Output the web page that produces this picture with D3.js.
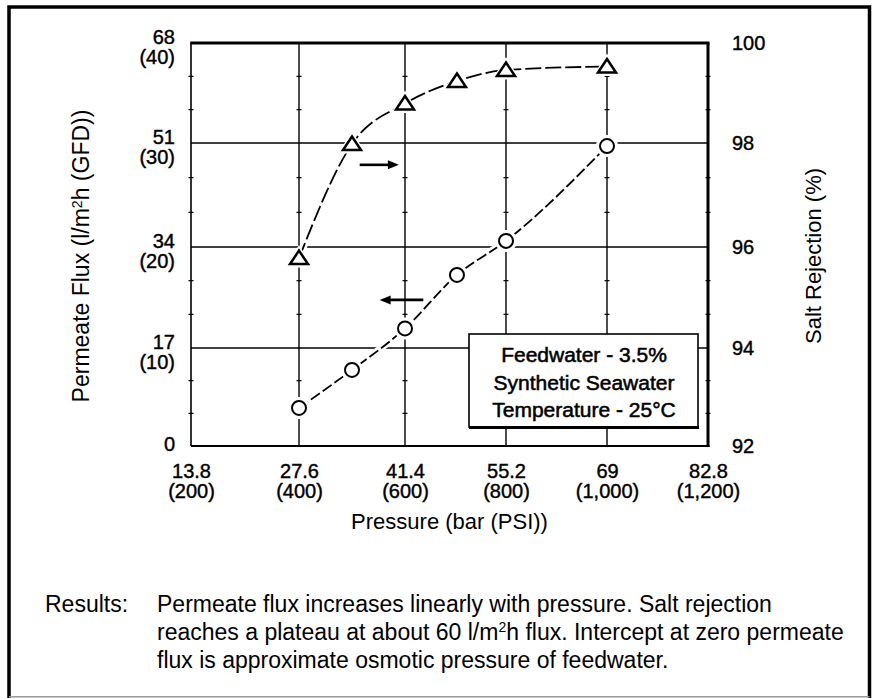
<!DOCTYPE html>
<html><head><meta charset="utf-8">
<script src="https://cdn.jsdelivr.net/npm/d3@7"></script>
<style>body{margin:0;background:#fff}svg{display:block}</style></head><body>
<svg id="c" width="875" height="698"></svg>
<script>
// ---- data ----
const pressureBar = [13.8, 27.6, 41.4, 55.2, 69, 82.8];
const pressurePsi = ["(200)", "(400)", "(600)", "(800)", "(1,000)", "(1,200)"];
const fluxTicks = [0, 17, 34, 51, 68];
const fluxGfd = ["", "(10)", "(20)", "(30)", "(40)"];
const rejectionTicks = [92, 94, 96, 98, 100];
const fluxPressure = [27.6, 34.5, 41.4, 48.5, 55.2, 69];
const fluxValues = [6.6, 13.2, 20.3, 29.3, 35.0, 50.5];
const rejectionPressure = [27.6, 34.5, 41.4, 48.5, 55.2, 69];
const rejectionValues = [95.78, 97.98, 98.79, 99.24, 99.46, 99.53];
const legendLines = ["Feedwater - 3.5%", "Synthetic Seawater", "Temperature - 25\u00B0C"];
const captionLabel = "Results:";
const captionLines = [
  [["Permeate flux increases linearly with pressure. Salt rejection", false]],
  [["reaches a plateau at about 60 l/m", false], ["2", true], ["h flux. Intercept at zero permeate", false]],
  [["flux is approximate osmotic pressure of feedwater.", false]]
];

(function () {
const FONT = "'Liberation Sans', Arial, Helvetica, sans-serif";
const svg = d3.select("#c");

const pTop = 43, pBottom = 446, pLeft = 191, pRight = 708;
const x = d3.scaleLinear().domain(pressureBar).range([191, 299, 405, 506, 607, 708]);
const yL = d3.scaleLinear().domain(fluxTicks).range([446, 348, 247, 143, 43]);
const yR = d3.scaleLinear().domain(rejectionTicks).range([446, 348, 247, 143, 43]);

// outer border
svg.append("path").attr("d", "M9,700 V7 H869.5 V700")
  .attr("fill", "none").attr("stroke", "#000").attr("stroke-width", 3.5);
svg.append("line").attr("x1", 9).attr("x2", 869.5).attr("y1", 696.8).attr("y2", 696.8)
  .attr("stroke", "#9a9a9a").attr("stroke-width", 1.5);

// grid
const grid = svg.append("g").attr("stroke", "#000").attr("stroke-width", 1.4);
pressureBar.slice(1, -1).forEach(v => {
  grid.append("line").attr("x1", x(v)).attr("x2", x(v)).attr("y1", pTop).attr("y2", pBottom);
});
fluxTicks.slice(1, -1).forEach(v => {
  grid.append("line").attr("x1", pLeft).attr("x2", pRight).attr("y1", yL(v)).attr("y2", yL(v));
});
// minor ticks (thirds) on the vertical lines
const minor = [];
for (let i = 0; i < fluxTicks.length - 1; i++) {
  const a = fluxTicks[i], b = fluxTicks[i + 1];
  minor.push(a + (b - a) / 3, a + 2 * (b - a) / 3);
}
pressureBar.forEach(v => {
  minor.forEach(m => {
    grid.append("line").attr("x1", x(v) - 2.5).attr("x2", x(v) + 2.5)
      .attr("y1", yL(m)).attr("y2", yL(m)).attr("stroke-width", 1.2);
  });
});

// frame
const frame = svg.append("g").attr("stroke", "#000").attr("fill", "none");
frame.append("line").attr("x1", pLeft).attr("x2", pLeft).attr("y1", pTop).attr("y2", pBottom).attr("stroke-width", 1.6);
frame.append("line").attr("x1", pLeft).attr("x2", pRight + 1.5).attr("y1", pBottom).attr("y2", pBottom).attr("stroke-width", 2);
frame.append("line").attr("x1", pLeft - 0.8).attr("x2", pRight + 1.5).attr("y1", pTop).attr("y2", pTop).attr("stroke-width", 3);
frame.append("line").attr("x1", pRight).attr("x2", pRight).attr("y1", pTop).attr("y2", pBottom + 1).attr("stroke-width", 3);

// legend box
const lg = svg.append("g");
lg.append("rect").attr("x", 469).attr("y", 334).attr("width", 229).attr("height", 93)
  .attr("fill", "#fff").attr("stroke", "#000").attr("stroke-width", 1.6);
lg.append("line").attr("x1", 469).attr("x2", 699).attr("y1", 427.5).attr("y2", 427.5)
  .attr("stroke", "#000").attr("stroke-width", 3.2);
lg.selectAll("text.lgd").data(legendLines).join("text").attr("class", "lgd")
  .attr("x", 584).attr("y", (d, i) => 362 + i * 27.5)
  .attr("text-anchor", "middle").attr("font-family", FONT).attr("font-size", 21)
  .attr("fill", "#000").attr("stroke", "#000").attr("stroke-width", 0.55).text(d => d);

// series
const fluxPts = fluxPressure.map((p, i) => [x(p), yL(fluxValues[i])]);
const rejPts = rejectionPressure.map((p, i) => [x(p), yR(rejectionValues[i])]);
const lineGen = d3.line().curve(d3.curveMonotoneX);

[fluxPts, rejPts].forEach(pts => {
  svg.append("path").attr("d", lineGen(pts)).attr("fill", "none")
    .attr("stroke", "#fff").attr("stroke-width", 7);
});
svg.append("path").attr("d", lineGen(fluxPts)).attr("fill", "none")
  .attr("stroke", "#000").attr("stroke-width", 1.8).attr("stroke-dasharray", "11,3.5");
svg.append("path").attr("d", lineGen(rejPts)).attr("fill", "none")
  .attr("stroke", "#000").attr("stroke-width", 1.8).attr("stroke-dasharray", "16,4");

// markers
svg.selectAll("circle.halo").data(fluxPts).join("circle").attr("class", "halo")
  .attr("cx", d => d[0]).attr("cy", d => d[1]).attr("r", 11).attr("fill", "#fff");
svg.selectAll("circle.pt").data(fluxPts).join("circle").attr("class", "pt")
  .attr("cx", d => d[0]).attr("cy", d => d[1]).attr("r", 7)
  .attr("fill", "#fff").attr("stroke", "#000").attr("stroke-width", 2);
const tri = "M0,-7.5 L9,6 L-9,6 Z";
const triHalo = "M0,-13 L14,9.5 L-14,9.5 Z";
svg.selectAll("path.thalo").data(rejPts).join("path").attr("class", "thalo")
  .attr("transform", d => `translate(${d[0]},${d[1]})`).attr("d", triHalo).attr("fill", "#fff");
svg.selectAll("path.tri").data(rejPts).join("path").attr("class", "tri")
  .attr("transform", d => `translate(${d[0]},${d[1]})`).attr("d", tri)
  .attr("fill", "#fff").attr("stroke", "#000").attr("stroke-width", 2.5).attr("stroke-linejoin", "miter");

// arrows
function arrow(x1, x2, y) {
  const dir = Math.sign(x2 - x1);
  svg.append("line").attr("x1", x1).attr("x2", x2 - dir * 8).attr("y1", y).attr("y2", y)
    .attr("stroke", "#000").attr("stroke-width", 2.6);
  svg.append("path").attr("d", `M${x2},${y} L${x2 - dir * 11},${y - 4.5} L${x2 - dir * 11},${y + 4.5} Z`)
    .attr("fill", "#000");
}
arrow(x(35.5), x(40.6), yR(97.58));
arrow(x(43.9), x(38.1), yL(25.1));

// axes
function styleAxis(g) {
  g.attr("font-family", FONT).attr("font-size", 20);
  g.select(".domain").remove();
  g.selectAll(".tick line").remove();
  g.selectAll(".tick text").attr("fill", "#000").attr("stroke", "#000").attr("stroke-width", 0.4);
}
const gx = svg.append("g").attr("transform", `translate(0,${pBottom})`)
  .call(d3.axisBottom(x).tickValues(pressureBar).tickSize(0));
styleAxis(gx);
gx.selectAll(".tick text").each(function (d, i) {
  const t = d3.select(this).text(null).attr("y", null).attr("dy", null);
  t.append("tspan").attr("x", 0).attr("y", 32).text(String(d));
  t.append("tspan").attr("x", 0).attr("y", 52).text(pressurePsi[i]);
});

const gl = svg.append("g").attr("transform", `translate(${pLeft},0)`)
  .call(d3.axisLeft(yL).tickValues(fluxTicks).tickSize(0).tickPadding(16));
styleAxis(gl);
gl.selectAll(".tick text").each(function (d, i) {
  const t = d3.select(this).text(null).attr("dy", null);
  if (!fluxGfd[i]) {
    t.append("tspan").attr("x", -16).attr("y", 4).text(String(d));
  } else {
    t.append("tspan").attr("x", -16).attr("y", 0).text(String(d));
    t.append("tspan").attr("x", -16).attr("y", 20).text(fluxGfd[i]);
  }
});

const gr = svg.append("g").attr("transform", `translate(${pRight},0)`)
  .call(d3.axisRight(yR).tickValues(rejectionTicks).tickSize(0).tickPadding(24));
styleAxis(gr);

// axis titles
const yt = svg.append("text").attr("transform", "translate(89,256) rotate(-90)")
  .attr("text-anchor", "middle").attr("font-family", FONT).attr("font-size", 23);
yt.append("tspan").text("Permeate Flux (l/m");
yt.append("tspan").attr("font-size", 14).attr("dy", -7).text("2");
yt.append("tspan").attr("dy", 7).text("h (GFD))");

svg.append("text").attr("transform", "translate(821,256) rotate(-90)")
  .attr("text-anchor", "middle").attr("font-family", FONT).attr("font-size", 22)
  .text("Salt Rejection (%)");
svg.append("text").attr("x", (pLeft + pRight) / 2).attr("y", 529)
  .attr("text-anchor", "middle").attr("font-family", FONT).attr("font-size", 22)
  .text("Pressure (bar (PSI))");

// caption
svg.append("text").attr("x", 45).attr("y", 612).attr("font-family", FONT).attr("font-size", 23)
  .text(captionLabel);
captionLines.forEach((parts, i) => {
  const t = svg.append("text").attr("x", 157).attr("y", 612 + i * 28)
    .attr("font-family", FONT).attr("font-size", 23);
  let raised = false;
  parts.forEach(([s, sup]) => {
    if (sup) { t.append("tspan").attr("font-size", 14).attr("dy", -8).text(s); raised = true; }
    else { t.append("tspan").attr("dy", raised ? 8 : 0).text(s); raised = false; }
  });
});
})();
</script>
</body></html>
